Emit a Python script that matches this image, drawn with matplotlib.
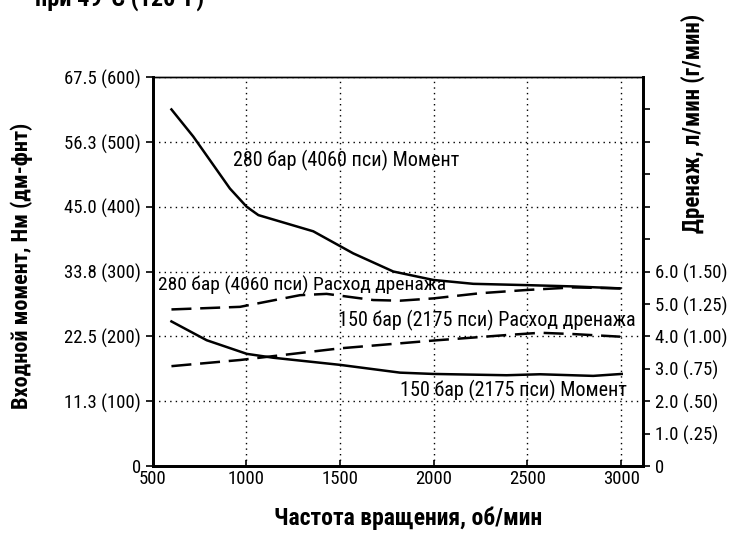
import numpy as np
import matplotlib
matplotlib.use('Agg')
import matplotlib.pyplot as plt

# condensed look: take the narrowest installed face
plt.rcParams['font.family'] = ['Roboto Condensed', 'Liberation Sans Narrow', 'Roboto', 'DejaVu Sans']

# rpm
rpm_t280 = [600, 717, 912, 1001, 1064, 1357, 1570, 1784, 1997, 2211, 2496, 2743, 2994]
torque_280 = [550, 508, 428, 400, 387, 362, 328, 300, 287, 281, 279, 277, 274]   # lb-ft

rpm_t150 = [600, 788, 1002, 1143, 1500, 1820, 1997, 2389, 2567, 2851, 3003]
torque_150 = [223, 194, 173, 167, 156, 144, 142, 140, 141.5, 139, 142]

rpm_d280 = [600, 966, 1286, 1428, 1677, 1820, 1997, 2247, 2496, 2745, 2994]
drain_280 = [4.83, 4.91, 5.27, 5.31, 5.12, 5.10, 5.17, 5.33, 5.43, 5.51, 5.48]   # l/min

rpm_d150 = [600, 966, 1500, 1997, 2389, 2567, 2745, 2994]
drain_150 = [3.08, 3.27, 3.63, 3.87, 4.04, 4.11, 4.07, 3.99]

left_ticks = [0, 100, 200, 300, 400, 500, 600]
left_labels = ['0', '11.3 (100)', '22.5 (200)', '33.8 (300)', '45.0 (400)',
               '56.3 (500)', '67.5 (600)']
right_ticks = [0, 1, 2, 3, 4, 5, 6, 7, 8, 9, 10, 11]
right_labels = ['0', '1.0 (.25)', '2.0 (.50)', '3.0 (.75)', '4.0 (1.00)',
                '5.0 (1.25)', '6.0 (1.50)', '', '', '', '', '']
x_ticks = [500, 1000, 1500, 2000, 2500, 3000]

fig = plt.figure(figsize=(7.53, 5.33), dpi=100)
ax = fig.add_axes([0.2028, 0.1257, 0.6512, 0.7298])

ax.plot(rpm_t280, torque_280, 'k-', lw=1.8)
ax.plot(rpm_t150, torque_150, 'k-', lw=1.8)
ax.set_xlim(500, 3117)
ax.set_ylim(0, 600)
ax.set_xticks(x_ticks)
ax.set_yticks(left_ticks)
ax.set_yticklabels(left_labels)
ax.grid(True, color='k', ls=(0, (1, 3)), lw=1)
ax.tick_params(axis='y', labelsize=13.5, length=5, width=1.2, color='k')
ax.tick_params(axis='x', labelsize=13.5, length=4, width=1.2, direction='in', pad=3)
for s in ['left', 'bottom', 'right']:
    ax.spines[s].set_linewidth(2)
ax.spines['top'].set_linewidth(1)

ax2 = ax.twinx()
ax2.plot(rpm_d280, drain_280, 'k', lw=1.8, ls=(0, (8, 3.5)))
ax2.plot(rpm_d150, drain_150, 'k', lw=1.8, ls=(0, (8, 3.5)))
ax2.set_ylim(0, 12)
ax2.set_yticks(right_ticks)
ax2.set_yticklabels(right_labels)
ax2.tick_params(labelsize=13.5, length=5, width=1.2)
for s in ['left', 'bottom', 'right']:
    ax2.spines[s].set_linewidth(2)
ax2.spines['top'].set_linewidth(1)

ax.set_xlabel('Частота вращения, об/мин', fontsize=17, fontweight='bold')
ax.xaxis.set_label_coords(0.52, -0.105)
ax.set_ylabel('Входной момент, Нм (дм-фнт)', fontsize=16, fontweight='bold')
ax.yaxis.set_label_coords(-0.244, 0.514)

fig.text(693 / 753, 1 - 123 / 533, 'Дренаж, л/мин (г/мин)', rotation=90,
         fontsize=16.5, fontweight='bold', ha='center', va='center')
# title sits mostly above the top edge, as in the source image
fig.text(35 / 753, 1 - 6 / 533, 'при 49°C (120°F)', fontsize=17.5,
         fontweight='bold', ha='left', va='baseline')

ax.annotate('280 бар (4060 пси) Момент', xy=(233 / 753, 1 - 160 / 533),
            xycoords='figure fraction', fontsize=14.5, va='center', ha='left')
ax.annotate('280 бар (4060 пси) Расход дренажа', xy=(158 / 753, 1 - 285 / 533),
            xycoords='figure fraction', fontsize=14, va='center', ha='left')
ax.annotate('150 бар (2175 пси) Расход дренажа', xy=(338 / 753, 1 - 320 / 533),
            xycoords='figure fraction', fontsize=14.5, va='center', ha='left')
ax.annotate('150 бар (2175 пси) Момент', xy=(400 / 753, 1 - 390 / 533),
            xycoords='figure fraction', fontsize=14.5, va='center', ha='left')

fig.savefig('out.png', dpi=100)
